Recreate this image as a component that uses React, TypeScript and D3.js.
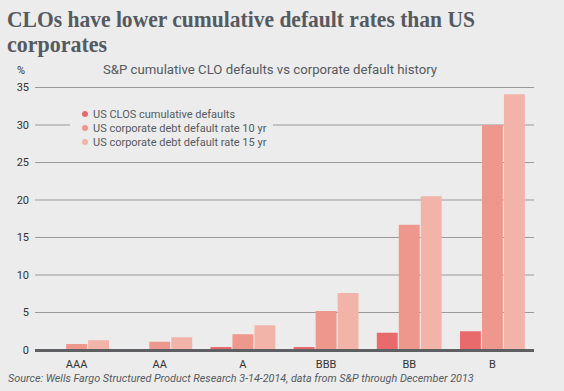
import * as d3 from 'd3';

const categories = ['AAA', 'AA', 'A', 'BBB', 'BB', 'B'];
const seriesNames = [
  'US CLOS cumulative defaults',
  'US corporate debt default rate 10 yr',
  'US corporate debt default rate 15 yr',
];
const cloDefaults = [0, 0, 0.4, 0.4, 2.3, 2.5];
const corp10yr = [0.8, 1.1, 2.1, 5.2, 16.7, 30.0];
const corp15yr = [1.3, 1.7, 3.3, 7.6, 20.5, 34.1];
const yTicks = [0, 5, 10, 15, 20, 25, 30, 35];
const colors = ['#e86a6c', '#ee978c', '#f2b3a8'];

const W = 564;
const H = 391;
const LEFT = 35;
const RIGHT = 534;
const TOP = 87.5;
const BOTTOM = 350;

export default function App() {
  const series = [cloDefaults, corp10yr, corp15yr];

  const x = d3.scaleBand<string>().domain(categories).range([LEFT, RIGHT]).paddingInner(0.22).paddingOuter(0.11);
  const xs = d3.scaleBand<number>().domain([0, 1, 2]).range([0, x.bandwidth()]).paddingInner(0.05);
  const y = d3.scaleLinear().domain([0, 35]).range([BOTTOM, TOP]);

  const sans = 'Roboto, "DejaVu Sans", sans-serif';
  const serif = '"Liberation Serif", serif';

  return (
    <svg width={W} height={H} style={{ position: 'absolute', left: 0, top: 0, background: '#ececec' }}>
      <rect width={W} height={H} fill="#ececec" />
      <text x={7} y={27} fontFamily={serif} fontWeight="bold" fontSize={23} fill="#555a60"
        textLength={468} lengthAdjust="spacingAndGlyphs">
        CLOs have lower cumulative default rates than US
      </text>
      <text x={7} y={52} fontFamily={serif} fontWeight="bold" fontSize={23} fill="#555a60"
        textLength={100} lengthAdjust="spacingAndGlyphs">
        corporates
      </text>
      <text x={103} y={74} fontFamily={sans} fontSize={13.2} fill="#555a60">
        S&amp;P cumulative CLO defaults vs corporate default history
      </text>
      <text x={17} y={74} fontFamily={sans} fontSize={11} fill="#333">%</text>

      {yTicks.map((t) => (
        <g key={t}>
          {t > 0 && (
            <line x1={LEFT} x2={RIGHT} y1={y(t)} y2={y(t)} stroke="#999" strokeWidth={1} />
          )}
          <text x={29} y={y(t)} dy="0.35em" textAnchor="end" fontFamily={sans} fontSize={11} fill="#333">
            {t}
          </text>
        </g>
      ))}

      {categories.map((c, i) => (
        <g key={c} transform={`translate(${x(c)},0)`}>
          {series.map((s, j) => (
            s[i] > 0 ? (
              <rect
                key={j}
                x={xs(j)}
                y={y(s[i])}
                width={xs.bandwidth()}
                height={BOTTOM - y(s[i])}
                fill={colors[j]}
              />
            ) : null
          ))}
          <text
            x={x.bandwidth() / 2}
            y={368}
            textAnchor="middle"
            fontFamily={sans}
            fontSize={11}
            fill="#333"
          >
            {c}
          </text>
        </g>
      ))}

      <line x1={LEFT} x2={RIGHT} y1={BOTTOM + 0.5} y2={BOTTOM + 0.5} stroke="#5d5f63" strokeWidth={3} />

      <rect x={70} y={105} width={203} height={45} fill="#ececec" />
      {seriesNames.map((n, i) => (
        <g key={n} transform={`translate(0,${114 + i * 14})`}>
          <circle cx={85} cy={0} r={3} fill={colors[i]} />
          <text x={93} y={0} dy="0.35em" fontFamily={sans} fontSize={11} fill="#555a60">
            {n}
          </text>
        </g>
      ))}

      <text x={8} y={382} fontFamily={sans} fontStyle="italic" fontSize={10.8} fill="#555a60">
        Source: Wells Fargo Structured Product Research 3-14-2014, data from S&amp;P through December 2013
      </text>
    </svg>
  );
}
